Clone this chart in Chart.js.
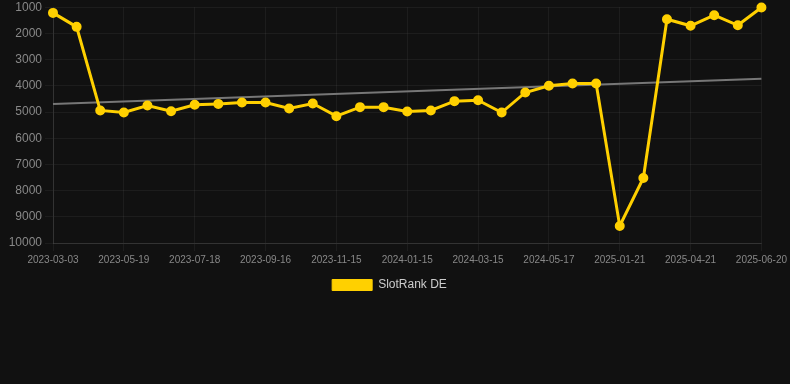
<!DOCTYPE html>
<html>
<head>
<meta charset="utf-8">
<script src="https://cdn.jsdelivr.net/npm/chart.js@4/dist/chart.umd.min.js"></script>
<style>
html,body{margin:0;padding:0;background:#111111;overflow:hidden;}
#wrap{width:790px;height:304px;position:relative;margin-top:-3px;}
</style>
</head>
<body>
<div id="wrap"><canvas id="c"></canvas></div>
<script>
const categories = ["2023-03-03","2023-03-28","2023-04-22","2023-05-19","2023-06-08","2023-06-28","2023-07-18","2023-08-07","2023-08-27","2023-09-16","2023-10-06","2023-10-26","2023-11-15","2023-12-05","2023-12-25","2024-01-15","2024-02-04","2024-02-24","2024-03-15","2024-04-05","2024-04-26","2024-05-17","2024-08-10","2024-11-05","2025-01-21","2025-02-20","2025-03-22","2025-04-21","2025-05-11","2025-05-31","2025-06-20"];
const rankDE = [1217,1750,4940,5020,4750,4970,4725,4690,4640,4640,4865,4675,5160,4815,4815,4980,4940,4585,4550,5020,4255,4000,3910,3910,9350,7520,1460,1710,1305,1690,1010];
const trend = [4690,null,null,null,null,null,null,null,null,null,null,null,null,null,null,null,null,null,null,null,null,null,null,null,null,null,null,null,null,null,3735];
const seriesName = "SlotRank DE";

const FONT = "'Liberation Sans', Arial, Helvetica, sans-serif";
new Chart(document.getElementById('c'), {
  type: 'line',
  data: {
    labels: categories,
    datasets: [
      {
        label: seriesName,
        data: rankDE,
        borderColor: '#FFD000',
        backgroundColor: '#FFD000',
        borderWidth: 3,
        pointRadius: 4,
        pointBorderWidth: 2,
        pointBackgroundColor: '#FFD000',
        pointBorderColor: '#FFD000',
        tension: 0
      },
      {
        label: 'trend',
        data: trend,
        spanGaps: true,
        borderColor: '#777777',
        borderWidth: 2,
        pointRadius: 0,
        tension: 0
      }
    ]
  },
  options: {
    responsive: true,
    maintainAspectRatio: false,
    animation: false,
    layout: { padding: { left: 0, right: 11 } },
    plugins: {
      legend: {
        position: 'bottom',
        labels: {
          color: '#cccccc',
          font: { family: FONT, size: 12 },
          boxWidth: 40,
          boxHeight: 11,
          generateLabels: (chart) => {
            const items = Chart.defaults.plugins.legend.labels.generateLabels(chart);
            return items.filter(i => i.text !== 'trend').map(i => Object.assign(i, { lineWidth: 1 }));
          }
        }
      },
      tooltip: { enabled: false }
    },
    scales: {
      x: {
        grid: { color: 'rgba(255,255,255,0.05)' },
        border: { color: 'rgba(255,255,255,0.1)' },
        ticks: {
          color: '#888888',
          font: { family: FONT, size: 10 },
          maxRotation: 0,
          autoSkip: true
        }
      },
      y: {
        reverse: true,
        afterFit: (s) => { s.width = 53; },
        grid: { color: 'rgba(255,255,255,0.05)' },
        border: { color: 'rgba(255,255,255,0.1)' },
        ticks: {
          color: '#888888',
          font: { family: FONT, size: 12 },
          stepSize: 1000,
          callback: (v) => String(v)
        }
      }
    }
  }
});
</script>
</body>
</html>
